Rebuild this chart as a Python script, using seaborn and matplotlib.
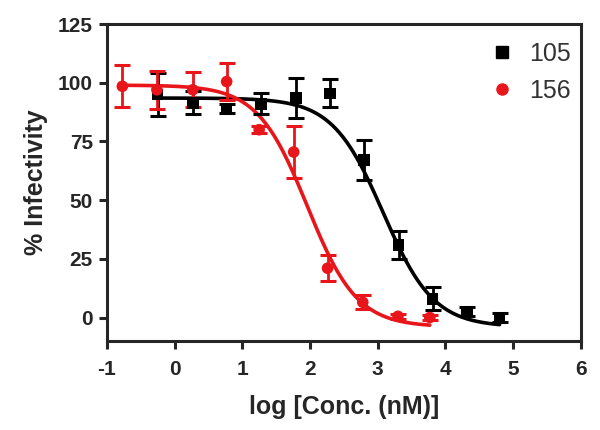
import matplotlib
matplotlib.use("Agg")
import matplotlib.pyplot as plt
from matplotlib.lines import Line2D
import numpy as np
import pandas as pd
import seaborn as sns

# measured points (log conc in nM, % infectivity, error)
x_105 = [-0.25, 0.27, 0.77, 1.28, 1.79, 2.30, 2.80, 3.31, 3.81, 4.32, 4.80]
y_105 = [95.0, 91.5, 89.0, 91.0, 93.5, 95.5, 67.0, 31.0, 8.0, 2.5, 0.0]
e_105 = [9.0, 5.0, 2.0, 4.5, 8.5, 6.0, 8.5, 6.0, 5.0, 2.0, 2.0]

x_156 = [-0.77, -0.26, 0.27, 0.77, 1.25, 1.76, 2.26, 2.78, 3.30, 3.77]
y_156 = [98.5, 97.0, 97.0, 100.5, 80.0, 70.5, 21.0, 6.5, 0.5, 0.0]
e_156 = [9.0, 8.0, 7.5, 8.0, 1.5, 11.0, 5.5, 3.0, 1.0, 1.0]

# fitted 4-parameter logistic curves: top, bottom, logIC50, hill slope
fit_105 = (93.5, -4.0, 3.08, 1.16)
fit_156 = (99.0, -4.0, 1.96, 1.18)

series = ["105", "156"]
colors = {"105": "black", "156": "#e8161b"}
markers = {"105": "s", "156": "o"}


def four_pl(x, top, bottom, logc, hill):
    return bottom + (top - bottom) / (1 + 10 ** (hill * (x - logc)))


pts = pd.DataFrame({
    "logc": x_105 + x_156,
    "inf": y_105 + y_156,
    "err": e_105 + e_156,
    "compound": ["105"] * len(x_105) + ["156"] * len(x_156),
})

curves = []
for name, xs, fit in [("105", x_105, fit_105), ("156", x_156, fit_156)]:
    xx = np.linspace(min(xs), max(xs), 200)
    curves.append(pd.DataFrame({"logc": xx, "inf": four_pl(xx, *fit), "compound": name}))
curves = pd.concat(curves)

sns.set_style("ticks")
plt.rcParams["font.family"] = ["Liberation Sans", "DejaVu Sans"]
plt.rcParams["axes.unicode_minus"] = False

fig = plt.figure(figsize=(6, 4.3), dpi=100)
ax = fig.add_axes([0.178, 0.207, 0.79, 0.737])

sns.lineplot(data=curves, x="logc", y="inf", hue="compound", palette=colors,
             linewidth=2.6, legend=False, ax=ax, zorder=2)

for name in series:
    d = pts[pts.compound == name]
    ax.errorbar(d.logc, d.inf, yerr=d.err, fmt="none", ecolor=colors[name],
                elinewidth=2.0, capsize=6, capthick=2.2, zorder=3)

sns.scatterplot(data=pts, x="logc", y="inf", hue="compound", style="compound",
                palette=colors, markers=markers, s=70, edgecolor="none",
                legend=False, ax=ax, zorder=4)

ax.set_xlim(-1, 6)
ax.set_ylim(-10, 125)
ax.set_xticks(range(-1, 7))
ax.set_yticks([0, 25, 50, 75, 100, 125])
ax.set_xlabel("log [Conc. (nM)]", fontsize=18, fontweight="bold", labelpad=11)
ax.set_ylabel("% Infectivity", fontsize=18, fontweight="bold", labelpad=7)

for s in ax.spines.values():
    s.set_linewidth(2.2)
ax.tick_params(width=2.2, length=6, labelsize=15)
ax.tick_params(axis="x", pad=8)
ax.tick_params(axis="y", pad=4)
for lab in ax.get_xticklabels() + ax.get_yticklabels():
    lab.set_fontweight("bold")

handles = [Line2D([], [], color=colors[n], marker=markers[n], linestyle="none",
                  markersize=8) for n in series]
ax.legend(handles, series, loc="upper right", bbox_to_anchor=(1.0, 0.975),
          frameon=False, fontsize=18, handlelength=1.0, handletextpad=0.6,
          labelcolor="#333333", borderaxespad=0.1, labelspacing=0.5,
          borderpad=0.3)

fig.savefig("out.png", dpi=100)
